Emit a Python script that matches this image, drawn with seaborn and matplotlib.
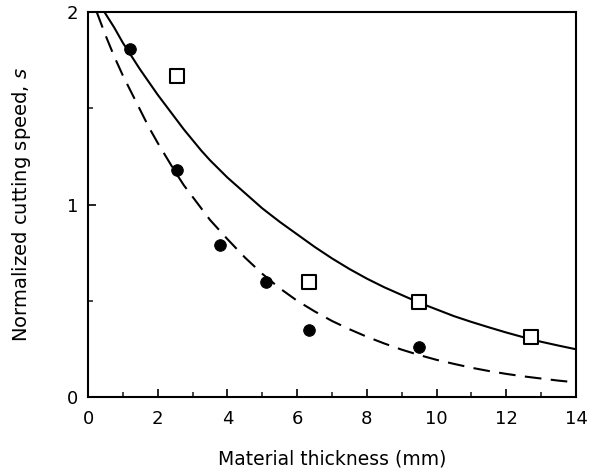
import matplotlib
matplotlib.use("Agg")
import matplotlib.pyplot as plt
import seaborn as sns
import pandas as pd
from matplotlib.ticker import MultipleLocator

# Measured points
circle_x = [1.2, 2.54, 3.8, 5.1, 6.35, 9.5]
circle_y = [1.81, 1.18, 0.79, 0.60, 0.35, 0.26]
square_x = [2.54, 6.35, 9.5, 12.7]
square_y = [1.67, 0.60, 0.495, 0.31]

# Curves
solid_x = [0.47, 0.75, 1.0, 1.25, 1.5, 1.75, 2.0, 2.25, 2.5, 2.75, 3.0, 3.25, 3.5, 3.75, 4.0, 4.5,
           5.0, 5.5, 6.0, 6.5, 7.0, 7.5, 8.0, 8.5, 9.0, 9.5, 10.0, 10.5, 11.0, 11.5, 12.0, 12.5, 13.0, 13.5, 14.0]
solid_y = [2.00, 1.92, 1.84, 1.77, 1.70, 1.635, 1.57, 1.51, 1.45, 1.39, 1.335, 1.28, 1.23, 1.185, 1.14, 1.06,
           0.98, 0.91, 0.845, 0.78, 0.72, 0.665, 0.615, 0.57, 0.53, 0.49, 0.455, 0.42, 0.39, 0.362, 0.335, 0.31, 0.287, 0.267, 0.248]
dash_x = [0.25, 0.5, 0.75, 1.0, 1.25, 1.5, 1.75, 2.0, 2.25, 2.5, 2.75, 3.0, 3.25, 3.5, 3.75, 4.0, 4.5,
          5.0, 5.5, 6.0, 6.5, 7.0, 7.5, 8.0, 8.5, 9.0, 9.5, 10.0, 10.5, 11.0, 11.5, 12.0, 12.5, 13.0, 13.5, 14.0]
dash_y = [2.00, 1.88, 1.77, 1.67, 1.58, 1.49, 1.40, 1.32, 1.245, 1.17, 1.10, 1.04, 0.98, 0.92, 0.87, 0.82, 0.725,
          0.64, 0.565, 0.50, 0.445, 0.395, 0.352, 0.313, 0.278, 0.246, 0.218, 0.193, 0.172, 0.152, 0.135, 0.120, 0.107, 0.096, 0.085, 0.076]

xticks = [0, 2, 4, 6, 8, 10, 12, 14]
yticks = [0, 1, 2]

sns.set_theme(style="ticks")
plt.rcParams['font.family'] = ['DejaVu Sans']
plt.rcParams['text.color'] = 'black'
plt.rcParams['axes.labelcolor'] = 'black'

fig = plt.figure(figsize=(6.01, 4.74), dpi=100)
ax = fig.add_axes([88/601, 1-397/474, (576-88)/601, (397-12)/474])

sns.lineplot(x=solid_x, y=solid_y, ax=ax, color='black', lw=1.5, sort=False)
sns.lineplot(x=dash_x, y=dash_y, ax=ax, color='black', lw=1.5, sort=False, linestyle=(0, (8, 4.5)))
sns.scatterplot(x=circle_x, y=circle_y, ax=ax, marker='o', s=70, color='black', edgecolor='black', zorder=5)
sns.scatterplot(x=square_x, y=square_y, ax=ax, marker='s', s=110, facecolor='white', edgecolor='black', linewidth=1.5, zorder=5)

ax.set_xlim(0, 14)
ax.set_ylim(0, 2)
ax.set_xticks(xticks)
ax.set_yticks(yticks)
ax.xaxis.set_minor_locator(MultipleLocator(1))
ax.yaxis.set_minor_locator(MultipleLocator(0.5))
ax.tick_params(which='major', direction='in', length=6, width=1.2, labelsize=13, colors='black')
ax.tick_params(which='minor', direction='in', length=3.5, width=1.2)
ax.tick_params(axis='x', which='major', pad=9)
ax.tick_params(axis='y', which='major', pad=7)
for sp in ax.spines.values():
    sp.set_linewidth(1.5)
    sp.set_color('black')

ax.set_xlabel('Material thickness (mm)', fontsize=13.5, labelpad=16, color='black')
ax.set_ylabel('Normalized cutting speed, $s$', fontsize=14, labelpad=24, color='black')

fig.savefig('out.png', dpi=100)
